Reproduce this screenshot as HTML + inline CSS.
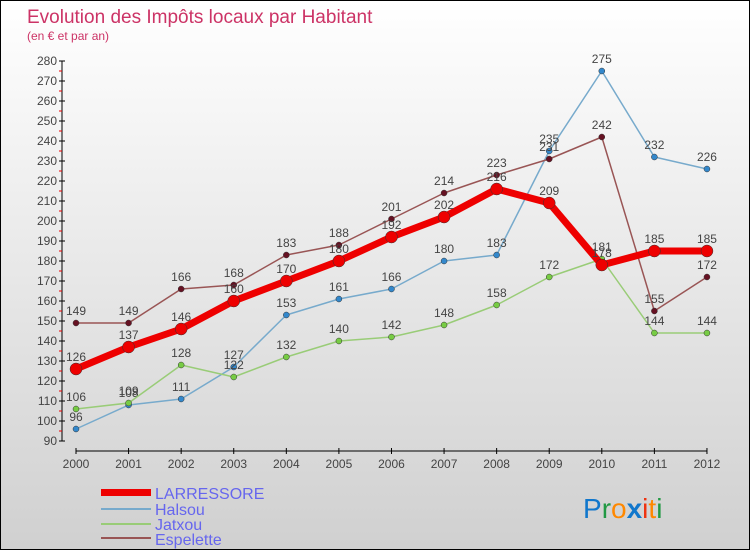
<!DOCTYPE html>
<html><head><meta charset="utf-8"><style>
body{margin:0}
#wrap{position:relative;width:748px;height:548px;border:1px solid #000;background:linear-gradient(#fff,#d0d0d0);font-family:"Liberation Sans",sans-serif;overflow:hidden}
</style></head><body>
<div id="wrap">
<svg id="svg" width="748" height="548">
<text x="26" y="22" font-size="19" fill="#cc3366">Evolution des Impôts locaux par Habitant</text>
<text x="26" y="39" font-size="12" fill="#cc3366">(en € et par an)</text>
<g id="axes"></g><g id="series"></g>
<g>
<rect x="100" y="488" width="50" height="7" fill="#ee0000"/>
<text x="154" y="498" font-size="16" fill="#6666ee">LARRESSORE</text>
<line x1="100" y1="508" x2="150" y2="508" stroke="#77aacc" stroke-width="2"/>
<text x="154" y="514" font-size="16" fill="#6666ee">Halsou</text>
<line x1="100" y1="523" x2="150" y2="523" stroke="#99cc77" stroke-width="2"/>
<text x="154" y="529" font-size="16" fill="#6666ee">Jatxou</text>
<line x1="100" y1="537" x2="150" y2="537" stroke="#995555" stroke-width="2"/>
<text x="154" y="544" font-size="16" fill="#6666ee">Espelette</text>
</g>
<g font-size="28" font-family="'Liberation Sans',sans-serif">
<text x="582" y="517"><tspan fill="#1177cc">P</tspan><tspan fill="#229944">r</tspan><tspan fill="#ff8800">o</tspan><tspan fill="#1177cc" font-weight="bold">x</tspan><tspan fill="#ee3311">i</tspan><tspan fill="#ff8800">t</tspan><tspan fill="#229944">i</tspan></text>
</g>
</svg>
</div>
<script>
const years=[2000,2001,2002,2003,2004,2005,2006,2007,2008,2009,2010,2011,2012];
const larressore=[126,137,146,160,170,180,192,202,216,209,178,185,185];
const halsou=[96,108,111,127,153,161,166,180,183,235,275,232,226];
const jatxou=[106,109,128,122,132,140,142,148,158,172,181,144,144];
const espelette=[149,149,166,168,183,188,201,214,223,231,242,155,172];
const yTicks=[90,100,110,120,130,140,150,160,170,180,190,200,210,220,230,240,250,260,270,280];
const NS="http://www.w3.org/2000/svg";
const X=i=>75+i*52.58;
const Y=v=>440-(v-90)*(380/190);
function mk(tag,attrs,parent){const e=document.createElementNS(NS,tag);for(const k in attrs)e.setAttribute(k,attrs[k]);parent.appendChild(e);return e;}
const ax=document.getElementById('axes');
let yl=mk('line',{x1:61,y1:Y(280),x2:61,y2:Y(90),stroke:'#000'},ax);


yTicks.forEach(v=>{
 mk('line',{x1:58,y1:Y(v),x2:64,y2:Y(v),stroke:'#000'},ax);
 if(v<280)mk('line',{x1:58,y1:Y(v+5),x2:61,y2:Y(v+5),stroke:'#e00'},ax);
 const t=mk('text',{x:56,y:Y(v)+4,'font-size':12,fill:'#444','text-anchor':'end'},ax);t.textContent=v;
 
 
});
let xl=mk('line',{x1:X(0),y1:450,x2:X(12),y2:450,stroke:'#000'},ax);


years.forEach((y,i)=>{
 mk('line',{x1:X(i),y1:447,x2:X(i),y2:453,stroke:'#000'},ax);
 const t=mk('text',{x:X(i),y:467,'font-size':12,fill:'#444','text-anchor':'middle'},ax);t.textContent=y;
 
 
});
const sg=document.getElementById('series');
function draw(data,color,w,r,dot,name){
 const g=mk('g',{},sg);
 
 
 mk('polyline',{points:data.map((v,i)=>X(i)+','+Y(v)).join(' '),fill:'none',stroke:color,'stroke-width':w,'stroke-linejoin':'round'},g);
 data.forEach((v,i)=>{
  const c=mk('circle',{cx:X(i),cy:Y(v),r:r,fill:dot,stroke:'#333','stroke-width':0.5},g);
  
  
  const t=mk('text',{x:X(i),y:Y(v)-8,'font-size':12,fill:'#444','text-anchor':'middle'},g);t.textContent=v;
  
  
 });
}
draw(halsou,'#77aacc',1.5,3,'#3388cc','halsou');
draw(jatxou,'#99cc77',1.5,3,'#77cc44','jatxou');
draw(espelette,'#995555',1.5,3,'#661122','espelette');
draw(larressore,'#ee0000',7,6,'#ee0000','larressore');
</script>
</body></html>
